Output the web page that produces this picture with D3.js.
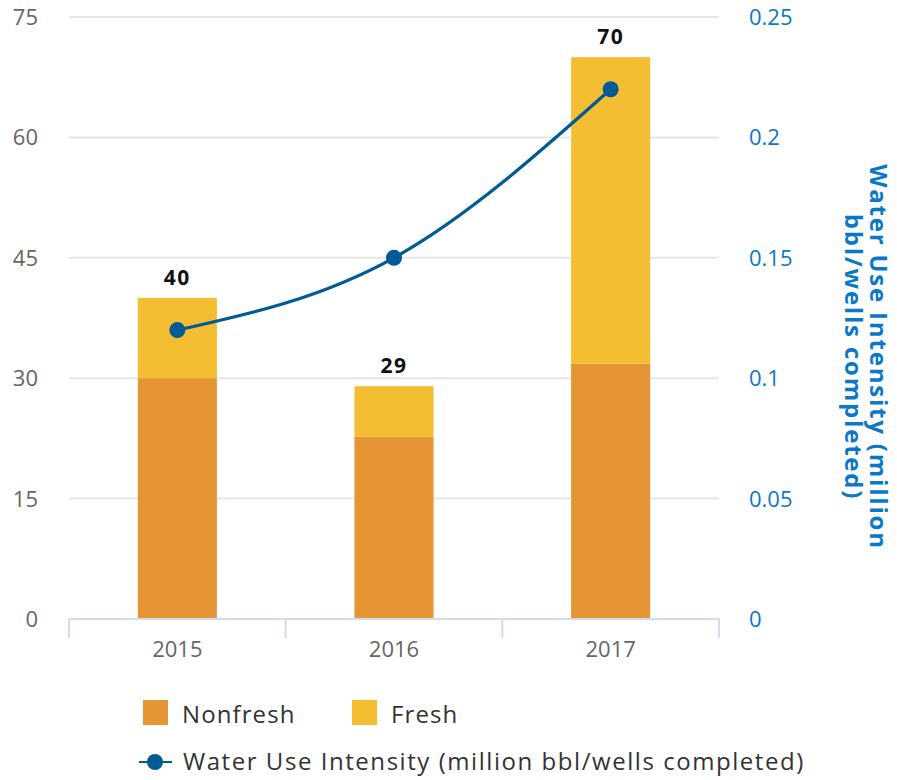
<!DOCTYPE html>
<html>
<head>
<meta charset="utf-8">
<script src="https://cdn.jsdelivr.net/npm/d3@7"></script>
<style>
  body { margin: 0; background: #fff; }
  text { font-family: "Open Sans", "DejaVu Sans", sans-serif; }
</style>
</head>
<body>
<script>
const years = ["2015", "2016", "2017"];
const nonfresh = [30, 22.7, 31.8];
const fresh = [10, 6.3, 38.2];
const totals = [40, 29, 70];
const intensity = [0.12, 0.15, 0.22];
const leftTicks = [0, 15, 30, 45, 60, 75];
const rightTicks = [0, 0.05, 0.1, 0.15, 0.2, 0.25];

function main(){
const W = 897, H = 780;
const margin = {top: 17, right: 178, bottom: 161, left: 69},
    width = W - margin.left - margin.right,
    height = H - margin.top - margin.bottom;

const svg = d3.select("body").append("svg")
    .attr("width", W).attr("height", H)
  .append("g")
    .attr("transform", `translate(${margin.left},${margin.top})`);

const x = d3.scaleBand().domain(years).range([0, width]).padding(0);
const barW = x.bandwidth() * 0.365;
const y = d3.scaleLinear().domain([0, 75]).range([height, 0]);
const y2 = d3.scaleLinear().domain([0, 0.25]).range([height, 0]);

// gridlines
svg.append("g").selectAll("line")
  .data(leftTicks.filter(d => d > 0))
  .join("line")
    .attr("x1", 0).attr("x2", width)
    .attr("y1", d => y(d)).attr("y2", d => y(d))
    .attr("stroke", "#e6e6e6").attr("stroke-width", 2);

// left axis labels
svg.append("g").selectAll("text")
  .data(leftTicks)
  .join("text")
    .attr("x", -31).attr("y", d => y(d)).attr("dy", "0.36em")
    .attr("text-anchor", "end")
    .attr("font-size", 22).attr("fill", "#666")
    .text(d => d);

// right axis labels
svg.append("g").selectAll("text")
  .data(rightTicks)
  .join("text")
    .attr("x", width + 30).attr("y", d => y2(d)).attr("dy", "0.36em")
    .attr("font-size", 22).attr("fill", "#0a78c8")
    .text(d => d);

// stacked bars
const rows = years.map((yr, i) => ({year: yr, nonfresh: nonfresh[i], fresh: fresh[i]}));
const stack = d3.stack().keys(["nonfresh", "fresh"])(rows);
const colors = {nonfresh: "#e59534", fresh: "#f4be32"};
svg.append("g").selectAll("g")
  .data(stack)
  .join("g")
    .attr("fill", d => colors[d.key])
  .selectAll("rect")
  .data(d => d)
  .join("rect")
    .attr("x", d => x(d.data.year) + (x.bandwidth() - barW) / 2)
    .attr("y", d => y(d[1]))
    .attr("width", barW)
    .attr("height", d => y(d[0]) - y(d[1]));

// totals
svg.append("g").selectAll("text")
  .data(totals)
  .join("text")
    .attr("x", (d, i) => x(years[i]) + x.bandwidth() / 2)
    .attr("y", d => y(d) - 13)
    .attr("text-anchor", "middle")
    .attr("font-size", 21).attr("font-weight", "bold").attr("fill", "#111")
    .attr("letter-spacing", 1.5)
    .text(d => d);

// x axis
const xAxis = svg.append("g").attr("transform", `translate(0,${height})`);
xAxis.append("line").attr("x1", 0).attr("x2", width)
  .attr("stroke", "#d3dbec").attr("stroke-width", 2);
xAxis.selectAll("line.tk")
  .data(d3.range(years.length + 1))
  .join("line").attr("class", "tk")
    .attr("x1", i => i * x.step()).attr("x2", i => i * x.step())
    .attr("y1", 0).attr("y2", 19)
    .attr("stroke", "#d3dbec").attr("stroke-width", 2);
xAxis.selectAll("text")
  .data(years)
  .join("text")
    .attr("x", d => x(d) + x.bandwidth() / 2)
    .attr("y", 38)
    .attr("text-anchor", "middle")
    .attr("font-size", 22).attr("fill", "#666")
    .text(d => d);

// intensity line
const line = d3.line()
    .x((d, i) => x(years[i]) + x.bandwidth() / 2)
    .y(d => y2(d))
    .curve(d3.curveMonotoneX);
svg.append("path")
    .datum(intensity)
    .attr("d", line)
    .attr("fill", "none").attr("stroke", "#005a96").attr("stroke-width", 3.2);
svg.append("g").selectAll("circle")
  .data(intensity)
  .join("circle")
    .attr("cx", (d, i) => x(years[i]) + x.bandwidth() / 2)
    .attr("cy", d => y2(d))
    .attr("r", 8)
    .attr("fill", "#005a96");

// right axis title
svg.append("text")
    .attr("transform", `translate(${width + 151},${height / 2 + 39}) rotate(90)`)
    .attr("text-anchor", "middle")
    .attr("font-size", 24).attr("font-weight", "bold").attr("fill", "#0a78c8")
    .attr("letter-spacing", 1.8)
  .selectAll("tspan")
  .data(["Water Use Intensity (million", "bbl/wells completed)"])
  .join("tspan")
    .attr("x", 0).attr("dy", (d, i) => i ? 25 : 0)
    .text(d => d);

// legend
const lg = d3.select("svg").append("g");
const items = [{k: "nonfresh", label: "Nonfresh", x: 143}, {k: "fresh", label: "Fresh", x: 352}];
lg.selectAll("rect")
  .data(items)
  .join("rect")
    .attr("x", d => d.x).attr("y", 700)
    .attr("width", 25).attr("height", 25)
    .attr("fill", d => colors[d.k]);
lg.selectAll("text.it")
  .data(items)
  .join("text").attr("class", "it")
    .attr("x", d => d.x + 39).attr("y", 723)
    .attr("font-size", 24).attr("fill", "#333").attr("letter-spacing", 1.1)
    .text(d => d.label);
lg.append("line")
    .attr("x1", 139).attr("x2", 172).attr("y1", 762).attr("y2", 762)
    .attr("stroke", "#005a96").attr("stroke-width", 2);
lg.append("circle").attr("cx", 155).attr("cy", 762).attr("r", 8).attr("fill", "#005a96");
lg.append("text")
    .attr("x", 183).attr("y", 770)
    .attr("font-size", 24).attr("fill", "#333").attr("letter-spacing", 1.55)
    .text("Water Use Intensity (million bbl/wells completed)");
}

main();
</script>
</body>
</html>
